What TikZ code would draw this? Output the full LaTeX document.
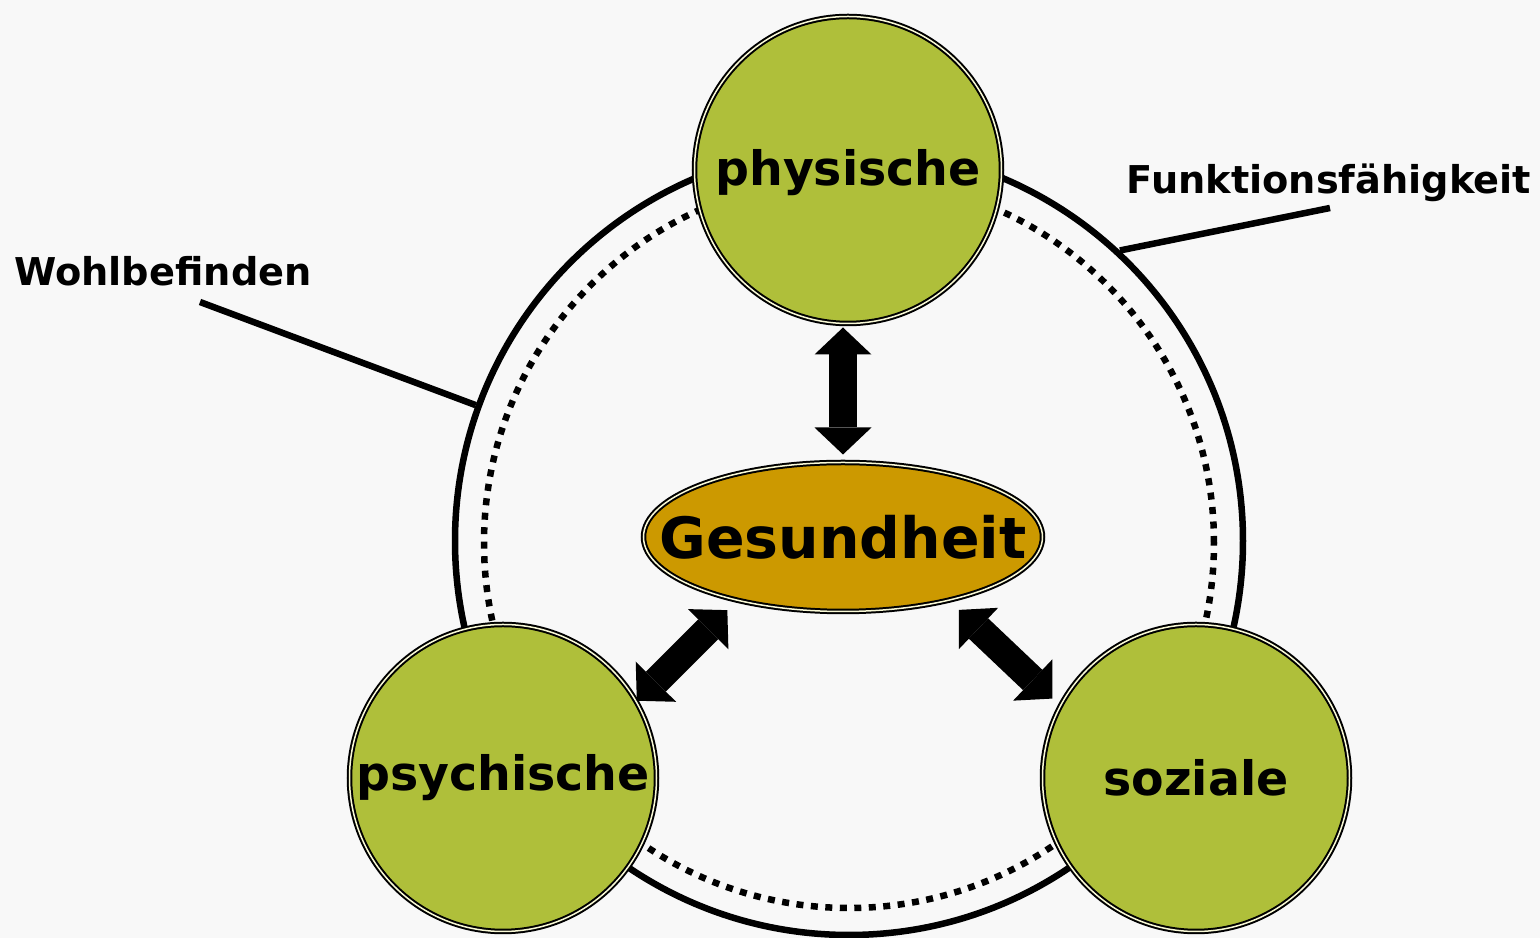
\documentclass[tikz,border=0pt]{standalone}
\usepackage{fontspec}
\setmainfont{DejaVu Sans}
\usetikzlibrary{arrows.meta, calc}
\usetikzlibrary{shapes.geometric}
\definecolor{mygreen}{RGB}{175,191,58}
\definecolor{mygold}{RGB}{204,153,0}
\definecolor{mycream}{RGB}{250,250,215}
\definecolor{mybg}{RGB}{248,248,248}
\tikzstyle{area} = [circle, draw=black, line width=0.02cm,
    double=mycream, double distance=0.015cm, fill=mygreen,
    minimum size=3.07cm, inner sep=0, font=\bfseries\fontsize{13.5}{15}\selectfont]
\tikzstyle{core} = [ellipse, draw=black, line width=0.02cm,
    double=mycream, double distance=0.015cm, fill=mygold,
    minimum width=3.99cm, minimum height=1.49cm, inner sep=0]
\tikzstyle{tag} = [font=\bfseries\fontsize{10.9}{12}\selectfont, inner sep=0]
\tikzstyle{bound} = [line width=0.065cm]
\tikzstyle{link} = [line width=0.28cm,
    {Triangle[width=0.57cm,length=0.27cm,line width=0pt]}-{Triangle[width=0.57cm,length=0.27cm,line width=0pt]}]

\begin{document}
\begin{tikzpicture}

% 1. Background and fixed size
\fill[mybg] (0,0) rectangle (15.4,9.38);
\useasboundingbox (0,0) rectangle (15.4,9.38);

% 2. Outer rings
\node[circle, draw, bound, minimum size=7.88cm, inner sep=0] (ring) at (8.49,3.97) {};
\draw[bound, dash pattern=on 0.07cm off 0.075cm] (8.49,3.95) circle (3.65cm);

% 3. Labels of the rings
\node[tag] (wohl) at (1.63,6.67) {Wohlbefinden};
\node[tag] (funk) at (13.29,7.55) {Funktionsfähigkeit};
\coordinate (wohlend) at (2.00,6.36);
\coordinate (funkend) at (13.30,7.30);
\draw[bound] (wohlend) -- (ring.160);
\draw[bound] (funkend) -- (ring.47);

% 4. The three areas and the centre
\node[area, text depth=0.05cm] (phys) at (8.48,7.68) {physische};
\node[area] (psych) at (5.03,1.60) {psychische};
\node[area] (soz) at (11.96,1.60) {soziale};
\node[core, label={[font=\bfseries\fontsize{16.2}{18}\selectfont]center:Gesundheit}] (ges) at (8.43,4.01) {};

% 5. Connections
\draw[link, shorten <=0.03cm, shorten >=0.07cm] (ges.north |- phys.south) -- (ges.north);
\draw[link, shorten <=0.13cm] (ges.211) -- (psych.30);
\draw[link, shorten <=0.13cm, shorten >=0.1cm] (ges.329) -- (soz.152);

\end{tikzpicture}
\end{document}
